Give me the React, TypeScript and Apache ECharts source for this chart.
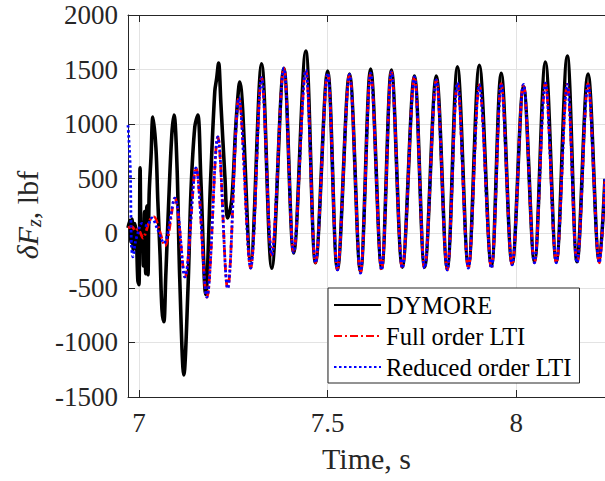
import React, { useEffect, useRef } from 'react';
import * as echarts from 'echarts';

const timeTicks = [7, 7.5, 8];
const forceTicksMin = -1500;
const forceTicksMax = 2000;
const forceTickStep = 500;

const dymoreTime = [
  6.971, 6.976, 6.979, 6.982, 6.985, 6.989, 6.993, 6.997, 7.0, 7.003, 7.006, 7.009, 7.012, 7.015,
  7.018, 7.021, 7.024, 7.027, 7.032, 7.037, 7.045, 7.05, 7.056, 7.061, 7.066, 7.071, 7.079, 7.087,
  7.093, 7.101, 7.108, 7.119, 7.13, 7.138, 7.148, 7.156, 7.164, 7.177, 7.19, 7.201, 7.206, 7.211,
  7.217, 7.228, 7.235, 7.246, 7.257, 7.267, 7.296, 7.325, 7.352, 7.384, 7.41, 7.442, 7.468, 7.5,
  7.526, 7.558, 7.587, 7.614, 7.643, 7.669, 7.698, 7.73, 7.757, 7.788, 7.817, 7.844, 7.873, 7.902,
  7.934, 7.96, 7.989, 8.019, 8.048, 8.077, 8.106, 8.135, 8.161, 8.19, 8.22, 8.235,
];
const dymoreForce = [
  50, 120, -80, 130, -150, 90, -20, -430, -470, 600, -150, 100, -300, 200,
  -370, 250, -380, 350, 700, 1066, 780, 300, -200, -700, -810, -400, 300, 900,
  1083, 600, -400, -1297, -500, 400, 975, 1083, 500, -560, 500, 1300, 1420, 1560,
  1200, 500, 140, 305, 1000, 1386, -250, 1553, -320, 1512, -180, 1670, -270, 1486,
  -330, 1460, -350, 1505, -320, 1495, -310, 1440, -310, 1440, -320, 1525, -300, 1540,
  -300, 1465, -280, 1345, -260, 1570, -260, 1625, -260, 1460, -260, 500,
];

const fullTime = [
  6.971, 6.981, 6.992, 6.997, 7.003, 7.011, 7.019, 7.029, 7.04, 7.053, 7.069, 7.095, 7.122, 7.151,
  7.18, 7.209, 7.235, 7.265, 7.296, 7.325, 7.352, 7.384, 7.41, 7.442, 7.468, 7.5, 7.526, 7.558,
  7.587, 7.614, 7.643, 7.669, 7.698, 7.73, 7.757, 7.788, 7.817, 7.844, 7.873, 7.902, 7.934, 7.96,
  7.989, 8.019, 8.048, 8.077, 8.106, 8.135, 8.161, 8.19, 8.22, 8.235,
];
const fullForce = [
  50, 60, 20, 40, 10, -45, 20, 120, 150, 40, -115, 323, -400, 598,
  -585, 882, -505, 1240, -320, 1425, -200, 1512, -175, 1495, -270, 1467, -336, 1455,
  -365, 1467, -336, 1478, -320, 1432, -320, 1405, -336, 1380, -320, 1360, -320, 1370,
  -290, 1365, -270, 1375, -270, 1365, -270, 1370, -270, 500,
];

const reducedTime = [
  6.971, 6.977, 6.98, 6.984, 6.99, 6.997, 7.008, 7.021, 7.034, 7.05, 7.066, 7.095, 7.122, 7.151,
  7.18, 7.209, 7.235, 7.265, 7.296, 7.325, 7.352, 7.384, 7.41, 7.442, 7.468, 7.5, 7.526, 7.558,
  7.587, 7.614, 7.643, 7.669, 7.698, 7.73, 7.757, 7.788, 7.817, 7.844, 7.873, 7.902, 7.934, 7.96,
  7.989, 8.019, 8.048, 8.077, 8.106, 8.135, 8.161, 8.19, 8.22, 8.235,
];
const reducedForce = [
  990, 600, -100, -215, -90, 0, 90, 70, 140, 30, -90, 323, -400, 598,
  -585, 882, -505, 1240, -320, 1425, -200, 1512, -175, 1495, -270, 1467, -336, 1455,
  -365, 1467, -336, 1478, -320, 1432, -320, 1405, -336, 1380, -320, 1360, -320, 1370,
  -290, 1365, -270, 1375, -270, 1365, -270, 1370, -270, 500,
];

const zip = (t: number[], v: number[]) => t.map((x, i) => [x, v[i]]);

const FONT = '"Liberation Serif", "Times New Roman", serif';
const AXIS_COLOR = '#262626';
const GRID_COLOR = '#e3e3e3';

const tickRich = {
  t: { fontSize: 27, fontFamily: FONT, color: AXIS_COLOR },
};

export default function App() {
  const ref = useRef<HTMLDivElement>(null);
  useEffect(() => {
    if (!ref.current) return;
    const chart = echarts.init(ref.current, undefined, { renderer: 'svg' });
    chart.setOption({
      animation: false,
      backgroundColor: '#ffffff',
      textStyle: { fontFamily: FONT },
      grid: { left: 128, top: 15, right: 0, bottom: 84, containLabel: false },
      xAxis: [
        {
          type: 'value',
          min: 6.971,
          max: 8.235,
          position: 'bottom',
          axisLine: { show: true, onZero: false, lineStyle: { color: AXIS_COLOR, width: 1 } },
          axisTick: { show: true, inside: true, length: 7, customValues: timeTicks, lineStyle: { color: AXIS_COLOR } },
          axisLabel: {
            customValues: timeTicks,
            fontSize: 27,
            fontFamily: FONT,
            color: AXIS_COLOR,
            margin: 12,
            formatter: (v: number) => '{t|' + String(v) + '}',
            rich: tickRich,
          },
          splitLine: { show: true, lineStyle: { color: GRID_COLOR, width: 1 } },
          name: 'Time, s',
          nameLocation: 'middle',
          nameGap: 46,
          nameTextStyle: { fontSize: 30, fontFamily: FONT, color: AXIS_COLOR },
        },
        {
          type: 'value',
          min: 6.971,
          max: 8.235,
          position: 'top',
          axisLine: { show: true, onZero: false, lineStyle: { color: AXIS_COLOR, width: 1 } },
          axisTick: { show: true, inside: true, length: 7, customValues: timeTicks, lineStyle: { color: AXIS_COLOR } },
          axisLabel: { show: false },
          splitLine: { show: false },
        },
      ],
      yAxis: {
        type: 'value',
        min: forceTicksMin,
        max: forceTicksMax,
        interval: forceTickStep,
        axisLine: { show: true, onZero: false, lineStyle: { color: AXIS_COLOR, width: 1 } },
        axisTick: { show: true, inside: true, length: 7, lineStyle: { color: AXIS_COLOR } },
        axisLabel: {
          fontSize: 27,
          fontFamily: FONT,
          color: AXIS_COLOR,
          margin: 10,
          formatter: (v: number) => '{t|' + String(v) + '}',
          rich: tickRich,
        },
        splitLine: { show: true, lineStyle: { color: GRID_COLOR, width: 1 } },
      },
      legend: {
        left: 328,
        top: 288,
        orient: 'vertical',
        backgroundColor: '#ffffff',
        borderColor: AXIS_COLOR,
        borderWidth: 1,
        borderRadius: 0,
        padding: [3, 8, 2, 5],
        itemGap: 3,
        itemWidth: 47,
        itemHeight: 14,
        itemStyle: { opacity: 0 },
        textStyle: { fontSize: 24.5, fontFamily: FONT, color: '#000000', lineHeight: 28 },
        data: ['DYMORE', 'Full order LTI', 'Reduced order LTI'],
      },
      graphic: [
        {
          type: 'text',
          x: 27,
          y: 215,
          rotation: Math.PI / 2,
          style: {
            text: '{i|δF}{s|z}{n|, lbf}',
            align: 'center',
            verticalAlign: 'middle',
            fill: AXIS_COLOR,
            rich: {
              i: { fontSize: 30, fontFamily: FONT, fontStyle: 'italic', lineHeight: 34, fill: AXIS_COLOR },
              s: { fontSize: 20, fontFamily: FONT, fontStyle: 'italic', verticalAlign: 'bottom', fill: AXIS_COLOR },
              n: { fontSize: 30, fontFamily: FONT, lineHeight: 34, fill: AXIS_COLOR },
            },
          },
        },
      ],
      series: [
        {
          name: 'DYMORE',
          type: 'line',
          data: zip(dymoreTime, dymoreForce),
          symbol: 'none',
          smooth: 0.35,
          color: '#000000',
          lineStyle: { color: '#000000', width: 3.6 },
        },
        {
          name: 'Full order LTI',
          type: 'line',
          data: zip(fullTime, fullForce),
          symbol: 'none',
          smooth: 0.35,
          color: '#ff0000',
          lineStyle: { color: '#ff0000', width: 2.8, type: [8, 3, 2, 3] },
        },
        {
          name: 'Reduced order LTI',
          type: 'line',
          data: zip(reducedTime, reducedForce),
          symbol: 'none',
          smooth: 0.35,
          color: '#0000ff',
          lineStyle: { color: '#0000ff', width: 2.8, type: [2.5, 2.5] },
        },
      ],
    });
    return () => chart.dispose();
  }, []);
  return <div ref={ref} style={{ position: 'absolute', left: 0, top: 0, width: 605, height: 481 }} />;
}
